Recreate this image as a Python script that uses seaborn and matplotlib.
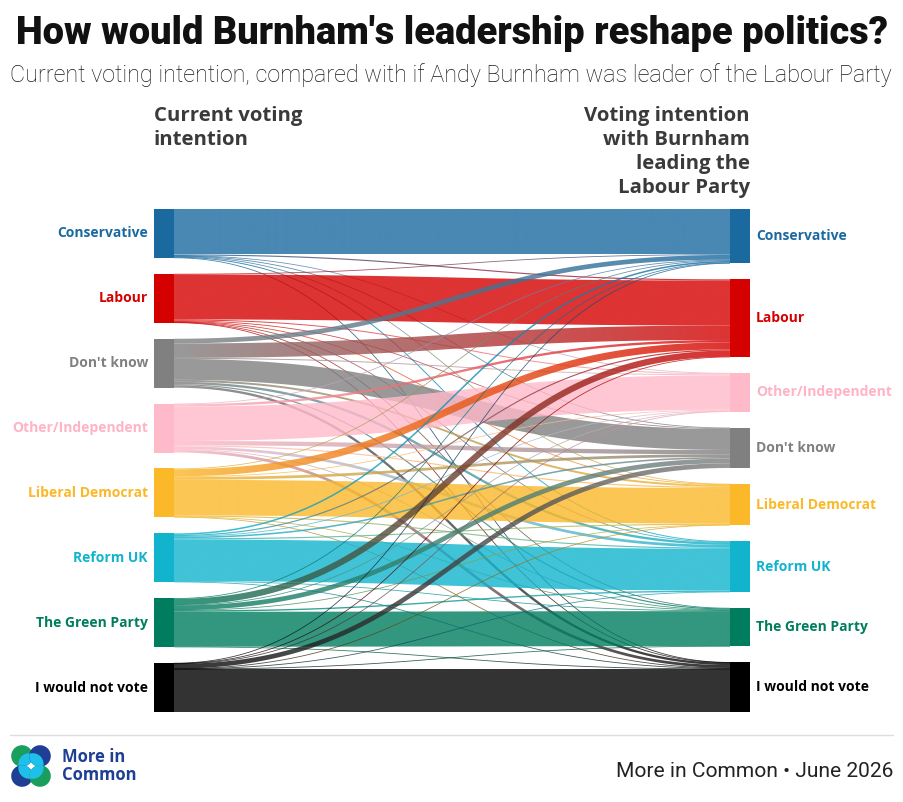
import numpy as np
import pandas as pd
import seaborn as sns
import matplotlib
matplotlib.use("Agg")
import matplotlib.pyplot as plt
from matplotlib.path import Path
from matplotlib.patches import PathPatch, Circle, Rectangle
from matplotlib.colors import to_rgba

sns.set_theme(style="white")
plt.rcParams['font.family'] = ['Open Sans', 'DejaVu Sans']

# ---------------- data ----------------
sources = ["Conservative", "Labour", "Don't know", "Other/Independent",
           "Liberal Democrat", "Reform UK", "The Green Party", "I would not vote"]
targets = ["Conservative", "Labour", "Other/Independent", "Don't know",
           "Liberal Democrat", "Reform UK", "The Green Party", "I would not vote"]

# flows (% of all respondents): current vote (row) -> vote with Burnham (columns in `targets` order)
from_conservative = [11.6, 0.3, 0.05, 0.15, 0.1, 0.25, 0.0, 0.05]
from_labour       = [0.15, 11.5, 0.25, 0.2, 0.15, 0.1, 0.1, 0.05]
from_dont_know    = [1.2, 3.7, 0.25, 5.35, 0.5, 0.6, 0.3, 0.6]
from_other        = [0.15, 0.6, 8.8, 1.1, 0.3, 0.7, 0.15, 0.7]
from_libdem       = [0.2, 1.8, 0.2, 0.7, 9.1, 0.3, 0.1, 0.1]
from_reform       = [0.4, 0.3, 0.15, 0.4, 0.3, 10.65, 0.15, 0.15]
from_green        = [0.15, 1.6, 0.1, 1.2, 0.05, 0.35, 8.95, 0.1]
from_would_not    = [0.05, 0.1, 0.05, 1.2, 0.05, 0.05, 0.05, 10.95]

party_colors = {
    "Conservative": "#1A6AA0",
    "Labour": "#D50000",
    "Don't know": "#808080",
    "Other/Independent": "#FFBAC9",
    "Liberal Democrat": "#FBB829",
    "Reform UK": "#12B4CD",
    "The Green Party": "#007D5F",
    "I would not vote": "#000000",
}

M = np.array([from_conservative, from_labour, from_dont_know, from_other,
              from_libdem, from_reform, from_green, from_would_not])
flows = pd.DataFrame(M, index=sources, columns=targets)

# ---------------- figure ----------------
W, H = 904, 802
fig = plt.figure(figsize=(W / 100, H / 100), dpi=100)
bg = fig.add_axes([0, 0, 1, 1])
bg.set_xlim(0, W)
bg.set_ylim(H, 0)
bg.axis("off")

L, R, TOP, BOT = 154, 750, 209, 712
ax = fig.add_axes([L / W, 1 - BOT / H, (R - L) / W, (BOT - TOP) / H])
ax.axis("off")

n = len(sources)
src_tot = flows.sum(axis=1).values
tgt_tot = flows.sum(axis=0).values
total = flows.values.sum()
pad_px = 16
Hpx = BOT - TOP
Wpx = R - L
gap = pad_px * total / (Hpx - (n - 1) * pad_px)
T = total + (n - 1) * gap
s = Hpx / T
nw = 20 / Wpx

ax.set_xlim(0, 1)
ax.set_ylim(T, 0)

src_y0 = np.concatenate([[0], np.cumsum(src_tot[:-1] + gap)])
tgt_y0 = np.concatenate([[0], np.cumsum(tgt_tot[:-1] + gap)])

src_off = {}
for i in range(n):
    y = src_y0[i]
    for j in range(n):
        src_off[(i, j)] = y
        y += M[i, j]
tgt_off = {}
for j in range(n):
    y = tgt_y0[j]
    for i in range(n):
        tgt_off[(i, j)] = y
        y += M[i, j]

x0, x1 = nw, 1 - nw
xm = (x0 + x1) / 2
tt = np.linspace(0, 1, 120)[:, None]
NG = 256
gx = np.linspace(0, 1, NG)


def draw_link(i, j):
    w = M[i, j]
    if w <= 0:
        return
    ya = src_off[(i, j)] + w / 2
    yb = tgt_off[(i, j)] + w / 2
    P0 = np.array([x0 * Wpx, ya * s])
    P1 = np.array([xm * Wpx, ya * s])
    P2 = np.array([xm * Wpx, yb * s])
    P3 = np.array([x1 * Wpx, yb * s])
    B = ((1 - tt) ** 3) * P0 + 3 * ((1 - tt) ** 2) * tt * P1 + 3 * (1 - tt) * tt ** 2 * P2 + tt ** 3 * P3
    D = 3 * (1 - tt) ** 2 * (P1 - P0) + 6 * (1 - tt) * tt * (P2 - P1) + 3 * tt ** 2 * (P3 - P2)
    nrm = np.column_stack([-D[:, 1], D[:, 0]])
    nrm /= np.linalg.norm(nrm, axis=1)[:, None]
    hw = max(w * s, 0.8) / 2
    top = B + nrm * hw
    bot = B - nrm * hw
    pts = np.vstack([top, bot[::-1]])
    pts_d = np.column_stack([pts[:, 0] / Wpx, pts[:, 1] / s])
    path = Path(np.vstack([pts_d, pts_d[:1]]), closed=True)
    patch = PathPatch(path, facecolor="none", edgecolor="none", transform=ax.transData)
    ax.add_patch(patch)
    c0 = np.array(to_rgba(party_colors[sources[i]]))
    c1 = np.array(to_rgba(party_colors[targets[j]]))
    f = np.clip((gx - x0) / (x1 - x0), 0, 1)[:, None]
    cols = c0 * (1 - f) + c1 * f
    cols[:, 3] = 0.8
    img = np.repeat(cols[None, :, :], 2, axis=0)
    ymin, ymax = pts_d[:, 1].min() - 0.5, pts_d[:, 1].max() + 0.5
    im = ax.imshow(img, extent=(0, 1, ymax, ymin), aspect="auto",
                   interpolation="bilinear", origin="upper", zorder=1)
    im.set_clip_path(patch)


for i in range(n):
    for j in range(n):
        draw_link(i, j)

ax.set_xlim(0, 1)
ax.set_ylim(T, 0)

label_colors = dict(party_colors)
label_colors["Other/Independent"] = "#FFB3C6"
for i, name in enumerate(sources):
    ax.add_patch(Rectangle((0, src_y0[i]), nw, src_tot[i], color=party_colors[name], zorder=3, lw=0))
    ax.annotate(name, xy=(0, src_y0[i] + src_tot[i] / 2), xytext=(-6, 0),
                textcoords="offset pixels", ha="right", va="center",
                fontsize=10.0, fontweight="bold", color=label_colors[name])
for j, name in enumerate(targets):
    ax.add_patch(Rectangle((1 - nw, tgt_y0[j]), nw, tgt_tot[j], color=party_colors[name], zorder=3, lw=0))
    ax.annotate(name, xy=(1, tgt_y0[j] + tgt_tot[j] / 2), xytext=(6, 0),
                textcoords="offset pixels", ha="left", va="center",
                fontsize=10.0, fontweight="bold", color=label_colors[name])

# ---------------- texts ----------------
renderer = fig.canvas.get_renderer()


def fit(txt, width):
    bb = txt.get_window_extent(renderer)
    txt.set_fontsize(txt.get_fontsize() * width / bb.width)


title = bg.text(452, 44, "How would Burnham's leadership reshape politics?", ha="center",
                va="baseline", fontsize=22, fontweight="black", color="#111111", family="Roboto")
fit(title, 868)
sub = bg.text(451, 82, "Current voting intention, compared with if Andy Burnham was leader of the Labour Party",
              ha="center", va="baseline", fontsize=13, fontweight="light", color="#1a1a1a", family="Roboto")
fit(sub, 878)

hdr_kw = dict(fontsize=14.7, fontweight="bold", color="#3a3a3a", family="Open Sans", linespacing=1.27)
h1 = bg.text(154, 106, "Current voting\nintention", ha="left", va="top", **hdr_kw)
h2 = bg.text(750, 106, "Voting intention\nwith Burnham\nleading the\nLabour Party", ha="right",
             va="top", multialignment="right", **hdr_kw)

# footer
bg.plot([10, 893], [735, 735], color="#dddddd", lw=1)
navy, green, cyan = "#1E3F94", "#1A9E5C", "#1EC0EA"
centres = [((22, 756), green), ((40, 756), navy), ((22, 776), navy), ((40, 776), green)]
for (cx, cy), col in centres:
    c = Circle((cx, cy), 10.8, color=col, lw=0)
    bg.add_patch(c)
    dx = 31 - cx
    dy = 766 - cy
    c2 = Circle((cx + dx * 0.8, cy + dy * 0.8), 10.8, color=cyan, lw=0)
    bg.add_patch(c2)
    c2.set_clip_path(c)
bg.text(62, 766, "More in\nCommon", ha="left", va="center", fontsize=12, fontweight="bold",
        color=navy, linespacing=1.0, family="Open Sans")
foot = bg.text(893, 777, "More in Common • June 2026", ha="right", va="baseline",
               fontsize=13, fontweight="normal", color="#222222", family="Roboto")
fit(foot, 277)

fig.savefig("out.png", dpi=100)
